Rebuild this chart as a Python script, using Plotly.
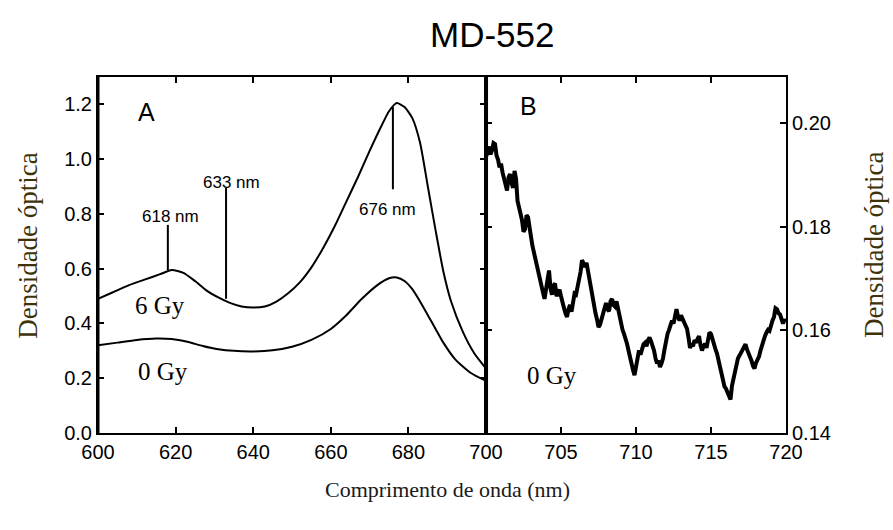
import plotly.graph_objects as go

# Panel A: absorption spectra of the MD-552 film (600-700 nm)
wl_6gy = [600, 604, 608, 612, 616, 619, 622, 625, 628, 631, 634, 637, 640, 643, 646,
          649, 652, 655, 658, 661, 664, 667, 670, 673, 675, 677, 679, 681, 683, 685,
          687, 689, 691, 694, 697, 700]
od_6gy = [0.49, 0.515, 0.54, 0.56, 0.58, 0.595, 0.585, 0.555, 0.52, 0.495, 0.475, 0.462,
          0.458, 0.462, 0.48, 0.51, 0.55, 0.605, 0.675, 0.755, 0.845, 0.935, 1.03, 1.12, 1.175,
          1.205, 1.19, 1.15, 1.06, 0.90, 0.74, 0.59, 0.48, 0.37, 0.29, 0.235]

wl_0gy = [600, 605, 610, 615, 619, 623, 627, 631, 635, 640, 645, 650, 655, 660, 664,
          668, 672, 675, 677, 679, 681, 683, 685, 687, 689, 692, 696, 700]
od_0gy = [0.32, 0.33, 0.34, 0.345, 0.343, 0.333, 0.318, 0.306, 0.300, 0.298, 0.302, 0.315,
          0.34, 0.38, 0.43, 0.49, 0.54, 0.565, 0.568, 0.555, 0.525, 0.48, 0.43, 0.38, 0.33,
          0.27, 0.22, 0.19]

# Panel B: unirradiated film, 700-720 nm
wl_b = [700.0, 700.1, 700.2, 700.3, 700.4, 700.5, 700.6, 700.7, 700.8, 700.9,
        701.0, 701.1, 701.2, 701.3, 701.4, 701.5, 701.6, 701.7, 701.8, 701.9,
        702.0, 702.1, 702.2, 702.3, 702.4, 702.5, 702.6, 702.7, 702.8, 702.9,
        703.0, 703.1, 703.2, 703.3, 703.4, 703.5, 703.6, 703.7, 703.8, 703.9,
        704.0, 704.1, 704.2, 704.3, 704.4, 704.5, 704.6, 704.7, 704.8, 704.9,
        705.0, 705.1, 705.2, 705.3, 705.4, 705.5, 705.6, 705.7, 705.8, 705.9,
        706.0, 706.1, 706.2, 706.3, 706.4, 706.5, 706.6, 706.7, 706.8, 706.9,
        707.0, 707.1, 707.2, 707.3, 707.4, 707.5, 707.6, 707.7, 707.8, 707.9,
        708.0, 708.1, 708.2, 708.3, 708.4, 708.5, 708.6, 708.7, 708.8, 708.9,
        709.0, 709.1, 709.2, 709.3, 709.4, 709.5, 709.6, 709.7, 709.8, 709.9,
        710.0, 710.1, 710.2, 710.3, 710.4, 710.5, 710.6, 710.7, 710.8, 710.9,
        711.0, 711.1, 711.2, 711.3, 711.4, 711.5, 711.6, 711.7, 711.8, 711.9,
        712.0, 712.1, 712.2, 712.3, 712.4, 712.5, 712.6, 712.7, 712.8, 712.9,
        713.0, 713.1, 713.2, 713.3, 713.4, 713.5, 713.6, 713.7, 713.8, 713.9,
        714.0, 714.1, 714.2, 714.3, 714.4, 714.5, 714.6, 714.7, 714.8, 714.9,
        715.0, 715.1, 715.2, 715.3, 715.4, 715.5, 715.6, 715.7, 715.8, 715.9,
        716.0, 716.1, 716.2, 716.3, 716.4, 716.5, 716.6, 716.7, 716.8, 716.9,
        717.0, 717.1, 717.2, 717.3, 717.4, 717.5, 717.6, 717.7, 717.8, 717.9,
        718.0, 718.1, 718.2, 718.3, 718.4, 718.5, 718.6, 718.7, 718.8, 718.9,
        719.0, 719.1, 719.2, 719.3, 719.4, 719.5, 719.6, 719.7, 719.8, 719.9, 720.0]
od_b = [0.1935, 0.1950, 0.1955, 0.1940, 0.1948, 0.1962, 0.1960, 0.1938, 0.1930, 0.1915,
        0.1922, 0.1905, 0.1895, 0.1880, 0.1870, 0.1895, 0.1902, 0.1885, 0.1875, 0.1908,
        0.1893, 0.1850, 0.1832, 0.1825, 0.1812, 0.1790, 0.1795, 0.1822, 0.1818, 0.1790,
        0.1780, 0.1762, 0.1748, 0.1738, 0.1720, 0.1712, 0.1700, 0.1685, 0.1672, 0.1660,
        0.1680, 0.1698, 0.1715, 0.1680, 0.1668, 0.1685, 0.1690, 0.1665, 0.1672, 0.1678,
        0.1665, 0.1650, 0.1642, 0.1632, 0.1625, 0.1640, 0.1648, 0.1635, 0.1658, 0.1670,
        0.1668, 0.1680, 0.1692, 0.1712, 0.1735, 0.1728, 0.1722, 0.1730, 0.1712, 0.1698,
        0.1683, 0.1668, 0.1650, 0.1632, 0.1620, 0.1605, 0.1610, 0.1622, 0.1628, 0.1645,
        0.1652, 0.1640, 0.1636, 0.1655, 0.1660, 0.1648, 0.1645, 0.1655, 0.1640, 0.1625,
        0.1612, 0.1600, 0.1592, 0.1585, 0.1573, 0.1560, 0.1545, 0.1530, 0.1522, 0.1512,
        0.1530, 0.1548, 0.1560, 0.1552, 0.1565, 0.1572, 0.1575, 0.1568, 0.1580, 0.1585,
        0.1578, 0.1570, 0.1560, 0.1545, 0.1535, 0.1540, 0.1528, 0.1535, 0.1545, 0.1562,
        0.1580, 0.1592, 0.1600, 0.1610, 0.1618, 0.1612, 0.1632, 0.1640, 0.1625, 0.1618,
        0.1628, 0.1622, 0.1615, 0.1608, 0.1602, 0.1585, 0.1565, 0.1572, 0.1568, 0.1580,
        0.1575, 0.1582, 0.1588, 0.1570, 0.1560, 0.1568, 0.1573, 0.1565, 0.1585, 0.1595,
        0.1592, 0.1580, 0.1573, 0.1562, 0.1554, 0.1540, 0.1525, 0.1510, 0.1498, 0.1490,
        0.1486, 0.1478, 0.1472, 0.1465, 0.1492, 0.1505, 0.1520, 0.1532, 0.1545, 0.1550,
        0.1556, 0.1562, 0.1567, 0.1572, 0.1562, 0.1555, 0.1550, 0.1540, 0.1530, 0.1525,
        0.1536, 0.1542, 0.1548, 0.1560, 0.1572, 0.1580, 0.1588, 0.1595, 0.1600, 0.1598,
        0.1610, 0.1618, 0.1625, 0.1642, 0.1640, 0.1632, 0.1630, 0.1622, 0.1612, 0.1620, 0.1615]

# Peak markers: wavelength, marker line extent, label position
peak_nm = [618, 633, 676]
peak_line_top = [0.76, 0.895, 1.19]
peak_line_bottom = [0.595, 0.49, 0.89]
peak_label_x = [618.6, 634.5, 674.5]
peak_label_y = [0.79, 0.915, 0.815]

ticks_a_x = [600, 620, 640, 660, 680, 700]
ticks_a_y = [0.0, 0.2, 0.4, 0.6, 0.8, 1.0, 1.2]
ticks_b_x = [705, 710, 715, 720]
ticks_b_y = [0.14, 0.16, 0.18, 0.20]

LABEL_COLOR = "#3d3208"
SANS = "Liberation Sans, Arial, sans-serif"
SERIF = "Liberation Serif, Times New Roman, serif"

split = 0.564

fig = go.Figure()
fig.add_trace(go.Scatter(x=wl_6gy, y=od_6gy, mode="lines",
                         line=dict(color="black", width=2, shape="spline", smoothing=0.6),
                         xaxis="x", yaxis="y", showlegend=False))
fig.add_trace(go.Scatter(x=wl_0gy, y=od_0gy, mode="lines",
                         line=dict(color="black", width=2, shape="spline", smoothing=0.6),
                         xaxis="x", yaxis="y", showlegend=False))
fig.add_trace(go.Scatter(x=wl_b, y=od_b, mode="lines",
                         line=dict(color="black", width=4),
                         xaxis="x2", yaxis="y2", showlegend=False))

shapes = []
for nm, top, bot in zip(peak_nm, peak_line_top, peak_line_bottom):
    shapes.append(dict(type="line", xref="x", yref="y", x0=nm, x1=nm, y0=bot, y1=top,
                       line=dict(color="black", width=2)))
# heavy divider between the two panels and heavy left frame
shapes.append(dict(type="line", xref="paper", yref="paper", x0=split, x1=split, y0=0, y1=1,
                   line=dict(color="black", width=4)))
shapes.append(dict(type="line", xref="paper", yref="paper", x0=0, x1=0, y0=0, y1=1,
                   line=dict(color="black", width=3)))


def label(x, y, text, size, family, xref="paper", yref="paper", color="black", angle=0):
    return dict(x=x, y=y, xref=xref, yref=yref, text=text, showarrow=False,
                xanchor="center", yanchor="middle", textangle=angle,
                font=dict(family=family, size=size, color=color))


annotations = [label(lx, ly, f"{nm} nm", 17, SANS, "x", "y")
               for nm, lx, ly in zip(peak_nm, peak_label_x, peak_label_y)]
annotations += [
    label(612.6, 1.172, "A", 25, SANS, "x", "y"),
    label(702.8, 0.2034, "B", 25, SANS, "x2", "y2"),
    label(616.0, 0.467, "6 Gy", 25, SERIF, "x", "y"),
    label(616.8, 0.223, "0 Gy", 25, SERIF, "x", "y"),
    label(704.4, 0.1512, "0 Gy", 25, SERIF, "x2", "y2"),
    label(0.573, 1.118, "MD-552", 35, SANS),
    label(0.508, -0.16, "Comprimento de onda (nm)", 22, SERIF, color="#1a1a1a"),
    label(-0.102, 0.528, "Densidade óptica", 27, SERIF, color=LABEL_COLOR, angle=-90),
    label(1.128, 0.528, "Densidade óptica", 27, SERIF, color=LABEL_COLOR, angle=-90),
]

axis_common = dict(showline=True, linecolor="black", linewidth=2, ticks="inside",
                   ticklen=6, tickwidth=1.5, tickcolor="black", mirror="ticks",
                   showgrid=False, zeroline=False,
                   tickfont=dict(family=SANS, size=20, color="black"))

fig.update_layout(
    width=893, height=530,
    margin=dict(l=98, r=107, t=77, b=97),
    paper_bgcolor="white", plot_bgcolor="white",
    xaxis=dict(domain=[0, split], range=[600, 700], tickvals=ticks_a_x,
               anchor="y", **axis_common),
    yaxis=dict(range=[0, 1.30], tickvals=ticks_a_y,
               ticktext=[f"{v:.1f}" for v in ticks_a_y], anchor="x", **axis_common),
    xaxis2=dict(domain=[split, 1], range=[700, 720], tickvals=ticks_b_x,
                anchor="y2", **axis_common),
    yaxis2=dict(range=[0.14, 0.209], tickvals=ticks_b_y,
                ticktext=[f"{v:.2f}" for v in ticks_b_y], anchor="x2", side="right",
                **axis_common),
    shapes=shapes,
    annotations=annotations,
)

fig.write_html("out.html")
